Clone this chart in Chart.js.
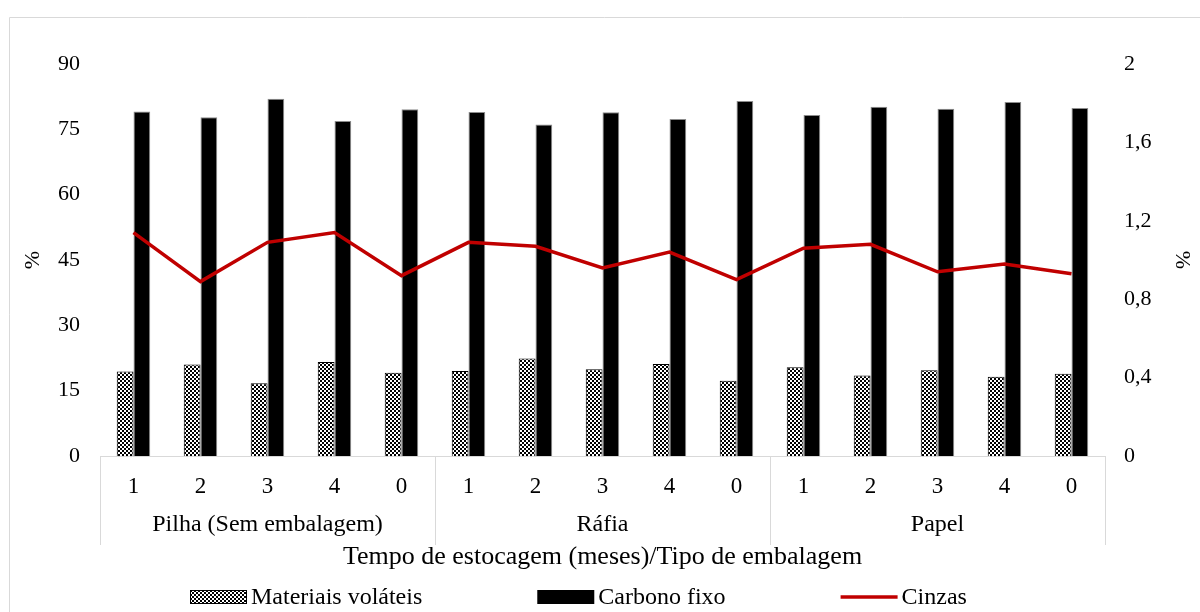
<!DOCTYPE html>
<html>
<head>
<meta charset="utf-8">
<script src="https://cdn.jsdelivr.net/npm/chart.js@4.4.1/dist/chart.umd.min.js"></script>
<style>
  html, body { margin: 0; padding: 0; background: #ffffff; }
  #wrap { width: 1200px; height: 612px; position: relative; }
</style>
</head>
<body>
<div id="wrap"><canvas id="c" width="1200" height="612"></canvas></div>
<script>
// ---- Data ----
const months = ['1', '2', '3', '4', '0', '1', '2', '3', '4', '0', '1', '2', '3', '4', '0'];
const groups = ['Pilha (Sem embalagem)', 'Ráfia', 'Papel'];
const groupSize = 5;
const volateis = [19.4, 21.0, 16.7, 21.6, 19.1, 19.5, 22.4, 19.9, 21.1, 17.3, 20.4, 18.5, 19.7, 18.2, 18.9];
const carbono = [79.1, 77.8, 82.0, 76.9, 79.6, 79.0, 76.1, 78.9, 77.4, 81.5, 78.3, 80.2, 79.7, 81.3, 79.9];
const cinzas = [1.14, 0.89, 1.09, 1.14, 0.92, 1.09, 1.07, 0.96, 1.04, 0.90, 1.06, 1.08, 0.94, 0.98, 0.93];
const seriesNames = ['Materiais voláteis', 'Carbono fixo', 'Cinzas'];
const leftTicks = [0, 15, 30, 45, 60, 75, 90];
const rightTicks = ['0', '0,4', '0,8', '1,2', '1,6', '2'];
const xTitle = 'Tempo de estocagem (meses)/Tipo de embalagem';

// ---- Styles ----
const FONT = "'Liberation Serif', 'Times New Roman', serif";
Chart.defaults.font.family = FONT;
Chart.defaults.font.size = 22;
Chart.defaults.color = '#000000';

const canvas = document.getElementById('c');
const ctx = canvas.getContext('2d');

const pc = document.createElement('canvas');
pc.width = 4; pc.height = 4;
const pctx = pc.getContext('2d');
pctx.fillStyle = '#ffffff'; pctx.fillRect(0, 0, 4, 4);
pctx.fillStyle = '#000000'; pctx.fillRect(0, 0, 2, 2); pctx.fillRect(2, 2, 2, 2);
const checker = ctx.createPattern(pc, 'repeat');

const RED = '#c00000';

// Frame, group separators, group labels, legend
const decorPlugin = {
  id: 'decor',
  beforeDraw(chart) {
    const c = chart.ctx;
    c.save();
    c.strokeStyle = '#d9d9d9';
    c.lineWidth = 1;
    c.beginPath();
    c.moveTo(9.5, chart.height);
    c.lineTo(9.5, 17.5);
    c.lineTo(chart.width, 17.5);
    c.stroke();
    c.restore();
  },
  afterDraw(chart) {
    const c = chart.ctx;
    const xs = chart.scales.x;
    const area = chart.chartArea;
    const n = months.length;
    const half = (xs.getPixelForValue(1) - xs.getPixelForValue(0)) / 2;
    c.save();
    // separators
    c.strokeStyle = '#d9d9d9';
    c.lineWidth = 1;
    const bounds = [];
    for (let g = 0; g <= groups.length; g++) {
      const idx = g * groupSize;
      let px = idx < n ? xs.getPixelForValue(idx) - half : xs.getPixelForValue(n - 1) + half;
      bounds.push(px);
      px = Math.round(px) + 0.5;
      c.beginPath();
      c.moveTo(px, area.bottom);
      c.lineTo(px, area.bottom + 89);
      c.stroke();
    }
    // group labels
    c.fillStyle = '#000000';
    c.font = '24px ' + FONT;
    c.textAlign = 'center';
    c.textBaseline = 'middle';
    groups.forEach((gname, g) => {
      c.fillText(gname, (bounds[g] + bounds[g + 1]) / 2, area.bottom + 69);
    });
    // legend
    const ly = 597;
    let x = 190;
    const boxW = 57, boxH = 14;
    c.textAlign = 'left';
    seriesNames.forEach((name, i) => {
      if (i === 0) {
        c.fillStyle = checker;
        c.fillRect(x, ly - boxH / 2, boxW, boxH);
        c.strokeStyle = '#000000';
        c.lineWidth = 1;
        c.strokeRect(x + 0.5, ly - boxH / 2 + 0.5, boxW - 1, boxH - 1);
      } else if (i === 1) {
        c.fillStyle = '#000000';
        c.fillRect(x, ly - boxH / 2, boxW, boxH);
      } else {
        c.strokeStyle = RED;
        c.lineWidth = 3.5;
        c.beginPath();
        c.moveTo(x, ly);
        c.lineTo(x + boxW, ly);
        c.stroke();
      }
      c.fillStyle = '#000000';
      c.fillText(name, x + boxW + 4, ly + 1);
      x += boxW + 4 + c.measureText(name).width + 115;
    });
    c.restore();
  }
};

new Chart(canvas, {
  type: 'bar',
  data: {
    labels: months,
    datasets: [
      {
        label: seriesNames[0],
        data: volateis,
        yAxisID: 'y',
        backgroundColor: checker,
        borderColor: '#000000',
        borderWidth: 1,
        categoryPercentage: 0.5,
        barPercentage: 1.0,
        order: 2
      },
      {
        label: seriesNames[1],
        data: carbono,
        yAxisID: 'y',
        backgroundColor: '#000000',
        borderColor: '#8c8c8c',
        borderWidth: 1,
        categoryPercentage: 0.5,
        barPercentage: 1.0,
        order: 2
      },
      {
        type: 'line',
        label: seriesNames[2],
        data: cinzas,
        yAxisID: 'y1',
        borderColor: RED,
        backgroundColor: RED,
        borderWidth: 3.5,
        pointRadius: 0,
        tension: 0,
        fill: false,
        order: 1
      }
    ]
  },
  options: {
    responsive: false,
    animation: false,
    devicePixelRatio: 1,
    layout: { padding: { left: 0, right: 0, top: 64, bottom: 37 } },
    plugins: {
      legend: { display: false },
      tooltip: { enabled: false }
    },
    scales: {
      x: {
        offset: true,
        grid: { display: false, drawTicks: false },
        border: { display: true, color: '#d9d9d9', width: 1 },
        ticks: { padding: 17, maxRotation: 0, autoSkip: false, font: { size: 23 } },
        title: { display: true, text: xTitle, font: { size: 26 }, padding: { top: 0, bottom: 2 } },
        afterFit(scale) { scale.height = 119; }
      },
      y: {
        position: 'left',
        min: 0, max: 90,
        afterBuildTicks(scale) { scale.ticks = leftTicks.map(v => ({ value: v })); },
        grid: { display: false, drawTicks: false },
        border: { display: false },
        ticks: { padding: 20, font: { size: 22 } },
        title: { display: true, text: '%', font: { size: 22 }, padding: { top: 20, bottom: 0 } },
        afterFit(scale) { scale.width = 100; }
      },
      y1: {
        position: 'right',
        min: 0, max: 2,
        afterBuildTicks(scale) { scale.ticks = rightTicks.map((t, i) => ({ value: i * 0.4 })); },
        grid: { display: false, drawTicks: false },
        border: { display: false },
        ticks: {
          padding: 19,
          font: { size: 22 },
          callback: (v, i) => rightTicks[i]
        },
        title: { display: true, text: '%', font: { size: 22 }, padding: { top: 5, bottom: 0 } },
        afterFit(scale) { scale.width = 95; }
      }
    }
  },
  plugins: [decorPlugin]
});
</script>
</body>
</html>
